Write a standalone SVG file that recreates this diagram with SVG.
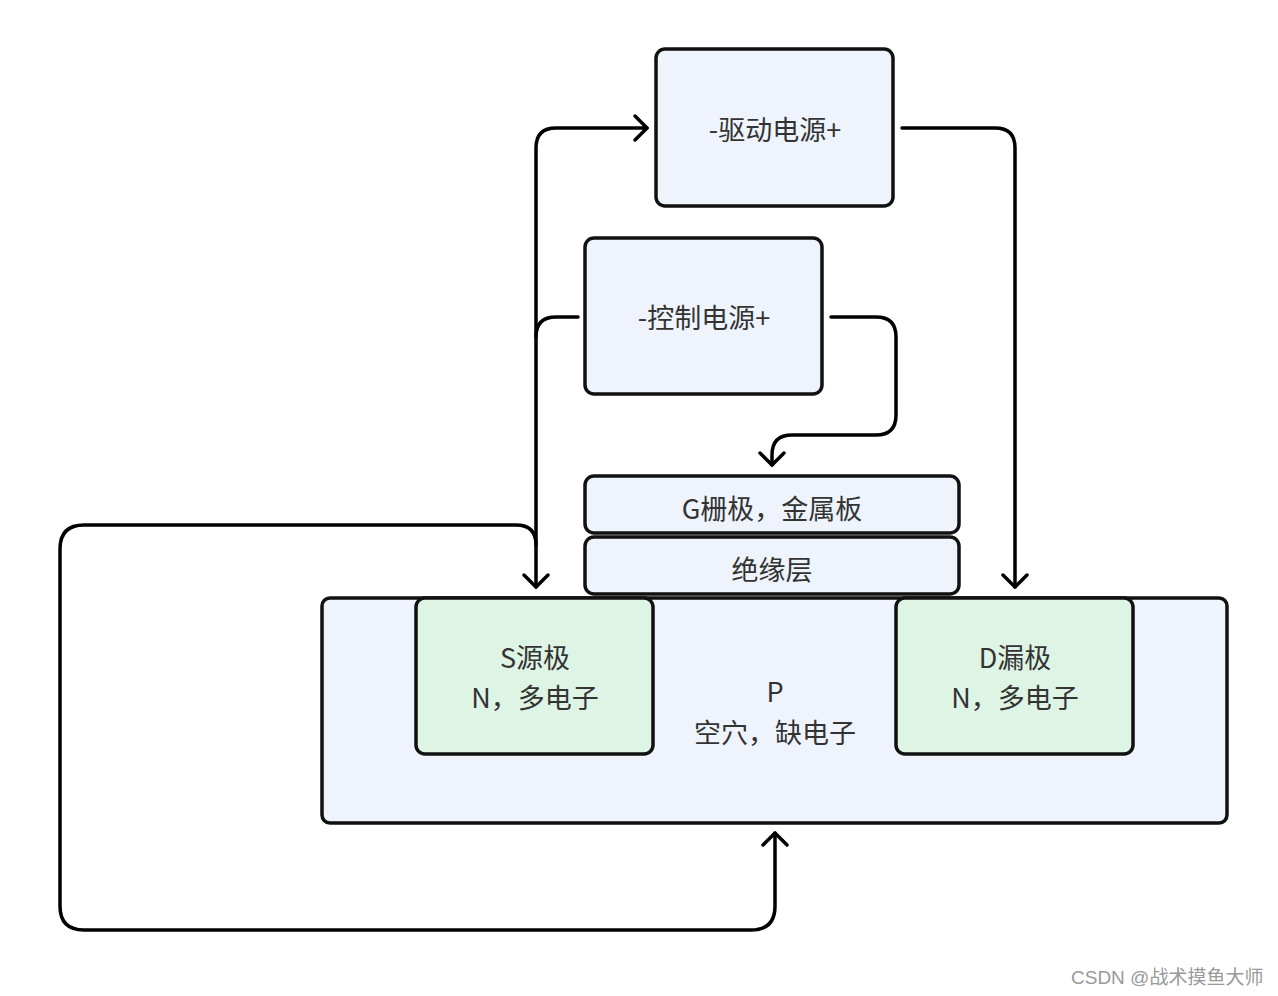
<svg xmlns="http://www.w3.org/2000/svg" width="1278" height="996" viewBox="0 0 1278 996">
<style>
.box{fill:#EEF3FC;stroke:#111;stroke-width:3.5}
.green{fill:#DEF4E4;stroke:#111;stroke-width:3.5}
.t{font-family:"Noto Sans CJK SC","Noto Sans",sans-serif;font-size:27px;fill:#333;text-anchor:middle;dominant-baseline:central}
.c{fill:none;stroke:#000;stroke-width:3.5;stroke-linecap:round;stroke-linejoin:round}
.wm{font-family:"Liberation Sans","Noto Sans CJK SC",sans-serif;font-size:19px;fill:#999}
</style>
<defs>
<marker id="a" markerUnits="userSpaceOnUse" markerWidth="30" markerHeight="30" refX="0" refY="0" viewBox="-15 -15 30 30" orient="auto" overflow="visible">
<path d="M-12,-12 L0,0 L-12,12" fill="none" stroke="#000" stroke-width="3.5" stroke-linecap="round" stroke-linejoin="round"/>
</marker>
</defs>
<rect width="1278" height="996" fill="#fff"/>
<g id="p-region">
<rect class="box" x="322" y="598" width="905" height="225" rx="8"/>
<text class="t" x="775" y="690">P</text>
<text class="t" x="775" y="731">空穴，缺电子</text>
</g>
<g id="drive">
<rect class="box" x="656" y="49" width="237" height="157" rx="9"/>
<text class="t" x="775" y="128">-驱动电源+</text>
</g>
<g id="control">
<rect class="box" x="585" y="238" width="237" height="156" rx="9"/>
<text class="t" x="704" y="316">-控制电源+</text>
</g>
<g id="gate">
<rect class="box" x="585" y="476" width="374" height="57" rx="9"/>
<text class="t" x="772" y="507">G栅极，金属板</text>
</g>
<g id="insulator">
<rect class="box" x="585" y="537" width="374" height="57" rx="9"/>
<text class="t" x="772" y="568">绝缘层</text>
</g>
<g id="source">
<rect class="green" x="416" y="598" width="237" height="156" rx="9"/>
<text class="t" x="535" y="656">S源极</text>
<text class="t" x="535" y="696">N，多电子</text>
</g>
<g id="drain">
<rect class="green" x="896" y="598" width="237" height="156" rx="9"/>
<text class="t" x="1015" y="656">D漏极</text>
<text class="t" x="1015" y="696">N，多电子</text>
</g>
<g id="connectors">
<path class="c" d="M578,317 H556 Q536,317 536,337 V587" marker-end="url(#a)"/>
<path class="c" d="M536,337 V148 Q536,128 556,128 H647" marker-end="url(#a)"/>
<path class="c" d="M902,128 H995 Q1015,128 1015,148 V587" marker-end="url(#a)"/>
<path class="c" d="M831,317 H876 Q896,317 896,337 V415 Q896,435 876,435 H792 Q772,435 772,455 V465" marker-end="url(#a)"/>
<path class="c" d="M536,545 Q536,525 516,525 H84 Q60,525 60,549 V906 Q60,930 84,930 H751 Q775,930 775,906 V833" marker-end="url(#a)"/>
</g>
<text class="wm" x="1071" y="984">CSDN @战术摸鱼大师</text>
</svg>
